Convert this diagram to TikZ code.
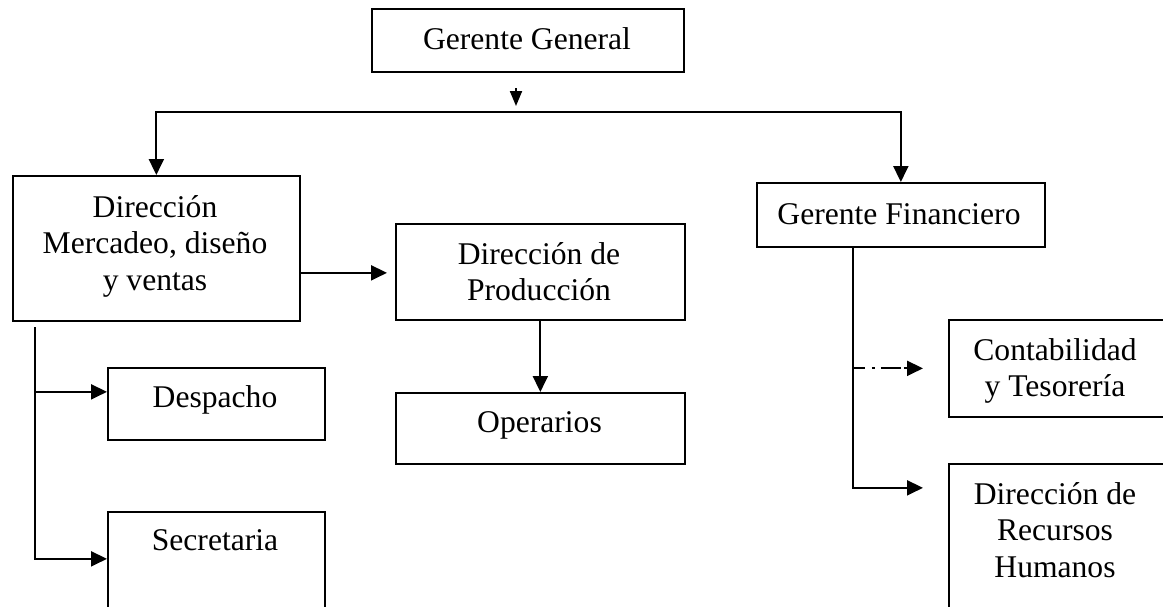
\documentclass[tikz,border=0pt]{standalone}
\usepackage{fontspec}
\setmainfont{Liberation Serif}
\usetikzlibrary{arrows.meta,calc}
\begin{document}
\begin{tikzpicture}[x=1pt,y=-1pt,
  box/.style={draw,line width=1.7pt,inner sep=0pt,anchor=north west},
  txt/.style={font=\fontsize{31.6}{36.5}\selectfont,inner sep=0pt,align=center},
  conn/.style={line width=2pt},
  arr/.style={conn,-{Triangle[length=16pt,width=15pt]}},
  tw/.style={conn,{Triangle[length=16pt,width=15pt]}-{Triangle[length=16pt,width=15pt]}}]
\useasboundingbox[fill=white] (0,0) rectangle (1163,606);
% boxes
\node[box,minimum width=312pt,minimum height=63pt] (gg) at (371,8) {};
\node[box,minimum width=287pt,minimum height=145pt] (mer) at (12,175) {};
\node[box,minimum width=289pt,minimum height=96pt] (prod) at (395,223) {};
\node[box,minimum width=289pt,minimum height=71pt] (op) at (395,392) {};
\node[box,minimum width=288pt,minimum height=64pt] (gf) at (756,182) {};
\node[box,minimum width=217pt,minimum height=72pt] (desp) at (107,367) {};
\node[box,minimum width=217pt,minimum height=104pt] (sec) at (107,511) {};
\node[box,minimum width=227pt,minimum height=97pt] (cont) at (948,319) {};
\node[box,minimum width=227pt,minimum height=157pt] (rh) at (948,463) {};
% texts
\node[txt,anchor=base] (ggt) at (527,49) {Gerente General};
\node[txt,anchor=north] (mert) at (155,195) {Dirección\\Mercadeo, diseño\\y ventas};
\node[txt,anchor=north] (prodt) at (539,242) {Dirección de\\Producción};
\node[txt,anchor=base] (opt) at (539.5,432) {Operarios};
\node[txt,anchor=base] (gft) at (899,224) {Gerente Financiero};
\node[txt,anchor=base] (despt) at (215,407) {Despacho};
\node[txt,anchor=base] (sect) at (215,550) {Secretaria};
\node[txt,anchor=north] (contt) at (1055,338) {Contabilidad\\y Tesorería};
\node[txt,anchor=north] (rht) at (1055,482) {Dirección de\\Recursos\\Humanos};
% connectors
\coordinate (st) at (516,88);
\coordinate (sb) at (516,106);
\draw[conn,-{Triangle[length=15pt,width=12pt]}] (st) -- (sb);
\coordinate (bus) at (527,112);
\draw[tw] (mer.north) |- (bus) -| (gf.north);
\draw[arr,shorten >=8pt] ([yshift=-24.5pt]mer.east) -- ([yshift=-24.5pt]mer.east -| prod.west);
\draw[arr] (prod) -- (op);
\coordinate (mt) at (35,327);
\draw[arr] (mt) |- ([yshift=5pt]sec.west);
\draw[arr] ([yshift=12pt]desp.west -| mt) -- ([yshift=12pt]desp.west);
\coordinate (gt) at ([xshift=-48pt]gf.south);
\draw[arr,shorten >=25pt] (gt) |- ([yshift=54.5pt]rh.west);
\draw[conn,dash pattern=on 12pt off 7pt on 3pt off 6pt on 20pt off 3pt,-{Triangle[length=16pt,width=15pt]},shorten >=25pt] (gt |- cont.west) -- (cont.west);
\end{tikzpicture}
\end{document}
